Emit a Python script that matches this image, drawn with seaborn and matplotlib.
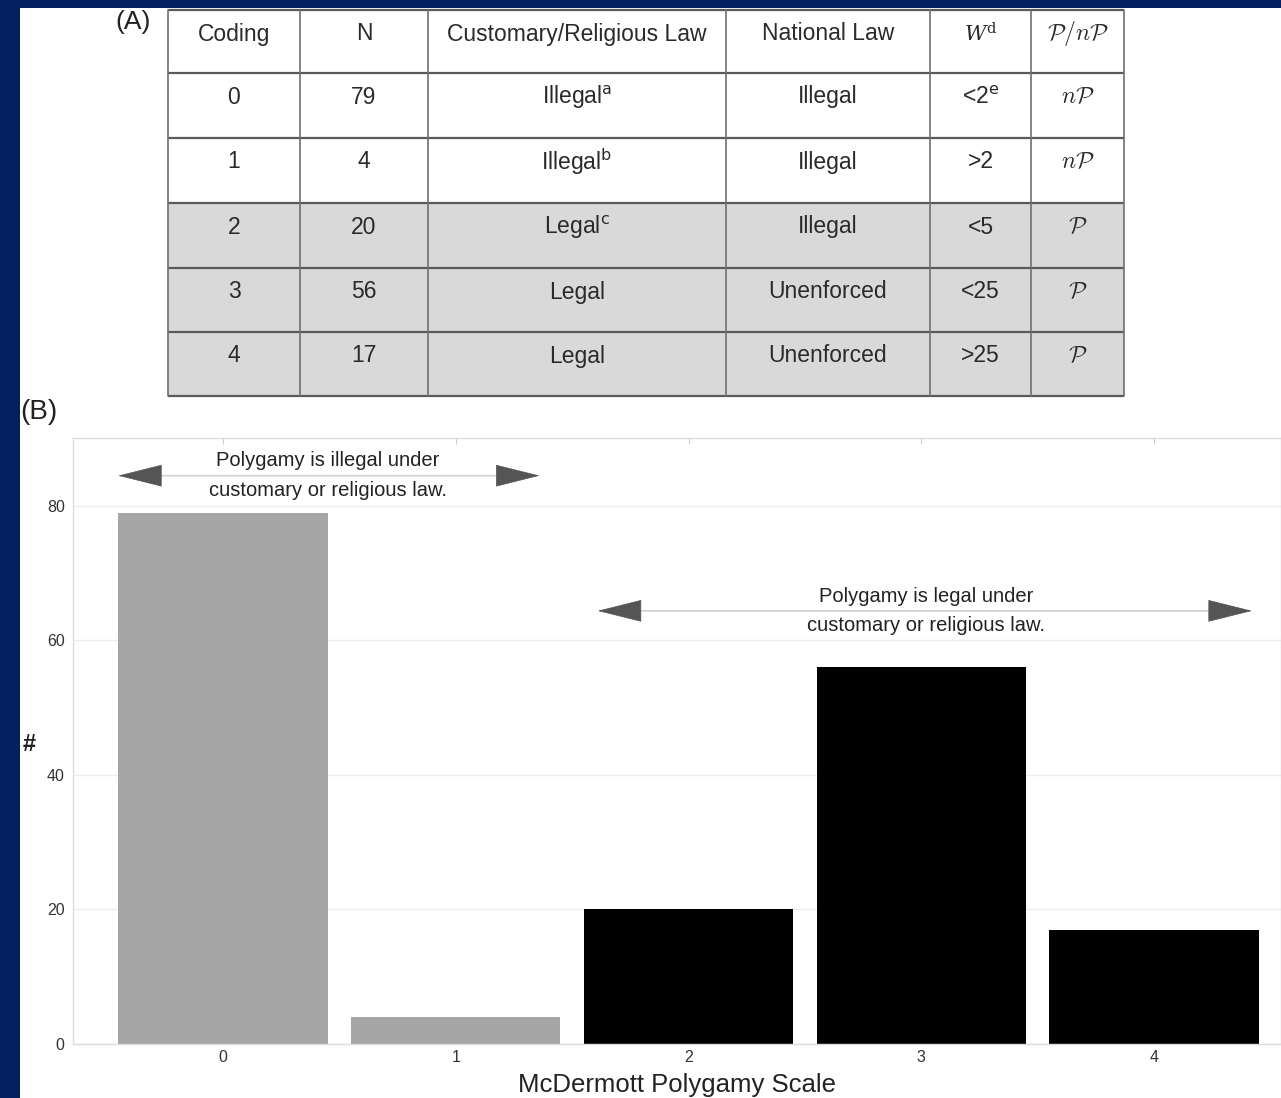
import matplotlib
matplotlib.use("Agg")
import matplotlib.pyplot as plt
from matplotlib.patches import Rectangle
from matplotlib.ticker import MultipleLocator
import seaborn as sns
import pandas as pd

# ---- data ----
coding = [0, 1, 2, 3, 4]
counts = [79, 4, 20, 56, 17]
status = ["illegal", "illegal", "legal", "legal", "legal"]
customary_law = ["Illegal$^{\\rm a}$", "Illegal$^{\\rm b}$", "Legal$^{\\rm c}$", "Legal", "Legal"]
national_law = ["Illegal", "Illegal", "Illegal", "Unenforced", "Unenforced"]
wives = ["<2$^{\\rm e}$", ">2", "<5", "<25", ">25"]
polygynous = [r"$n\mathcal{P}$", r"$n\mathcal{P}$", r"$\mathcal{P}$", r"$\mathcal{P}$", r"$\mathcal{P}$"]
headers = ["Coding", "N", "Customary/Religious Law", "National Law", r"$W^{\rm d}$", r"$\mathcal{P}/n\mathcal{P}$"]
x_label = "McDermott Polygamy Scale"
illegal_note = "Polygamy is illegal under\ncustomary or religious law."
legal_note = "Polygamy is legal under\ncustomary or religious law."

NAVY = "#03205f"
GREY_BAR = "#a6a6a6"
SHADE = "#d9d9d9"

sns.set_style("white")
plt.rcParams["font.family"] = ["Liberation Sans", "DejaVu Sans"]

W, H = 1281, 1098
fig = plt.figure(figsize=(W / 100, H / 100), dpi=100, facecolor=NAVY)
fig.patches.append(Rectangle((20 / W, 0), 1, (H - 8) / H, transform=fig.transFigure,
                             facecolor="white", edgecolor="none", zorder=-5))

# ---- panel A: table (pixel layout) ----
tab = fig.add_axes([0, 0, 1, 1])
tab.set_xlim(0, W)
tab.set_ylim(H, 0)
tab.axis("off")
tab.patch.set_alpha(0)

col_edges = [168, 300, 428, 726, 930, 1031, 1124]
row_edges = [10, 73, 138, 203, 268, 332, 396]

rows = [headers] + [
    [str(c), str(n), cl, nl, w, p]
    for c, n, cl, nl, w, p in zip(coding, counts, customary_law, national_law, wives, polygynous)
]

for r, row in enumerate(rows):
    top, bot = row_edges[r], row_edges[r + 1]
    shaded = r > 0 and status[r - 1] == "legal"
    if shaded:
        tab.add_patch(Rectangle((col_edges[0], top), col_edges[-1] - col_edges[0], bot - top,
                                facecolor=SHADE, edgecolor="none", zorder=1))
    for c, txt in enumerate(row):
        xc = (col_edges[c] + col_edges[c + 1]) / 2
        kw = {}
        if c == 5:
            kw["math_fontfamily"] = "cm"
            size = 17
        elif c == 4 and r == 0:
            kw["math_fontfamily"] = "dejavuserif"
            size = 15
        else:
            size = 16.5
        tab.text(xc, top + 24, txt, ha="center", va="center", fontsize=size,
                 color="#2a2a2a", zorder=3, **kw)

for y in row_edges:
    tab.plot([col_edges[0], col_edges[-1]], [y, y], color="#5a5a5a", lw=1.6, zorder=2,
             solid_capstyle="butt")
for x in col_edges:
    tab.plot([x, x], [row_edges[0], row_edges[-1]], color="#707070", lw=1.2, zorder=2)

tab.text(115, 22, "(A)", ha="left", va="center", fontsize=19, color="#222222")
tab.text(20, 412, "(B)", ha="left", va="center", fontsize=20, color="#222222")

# ---- panel B: bar chart ----
ax = fig.add_axes([73 / W, 1 - 1044 / H, (W - 73) / W, (1044 - 438) / H])
df = pd.DataFrame({"code": coding, "n": counts, "status": status})
sns.barplot(data=df, x="code", y="n", hue="status",
            palette={"illegal": GREY_BAR, "legal": "#000000"},
            dodge=False, width=0.9, saturation=1, legend=False, ax=ax, linewidth=0)

ax.set_xlim(-0.644, 4.545)
ax.set_ylim(0, 90.1)
ax.set_yticks([0, 20, 40, 60, 80])
ax.yaxis.set_minor_locator(MultipleLocator(5))
ax.yaxis.grid(True, which="major", color="#eeeeee", lw=1)
ax.set_axisbelow(True)

for s in ax.spines.values():
    s.set_color("#dcdcdc")
    s.set_linewidth(1.0)

ax.tick_params(axis="y", which="major", direction="out", length=3, color="#cccccc",
               labelsize=11.5, labelcolor="#333333", pad=3)
ax.tick_params(axis="y", which="minor", direction="out", length=3, color="#cccccc")
ax.tick_params(axis="x", which="major", direction="in", length=4, color="#cccccc",
               top=True, bottom=True, labelsize=11.5, labelcolor="#333333", pad=4)

ax.set_xlabel(x_label, fontsize=18.5, color="#222222", labelpad=6)
ax.set_ylabel("#", rotation=0, fontsize=17, fontweight="bold", color="#222222",
              va="center")
ax.yaxis.set_label_coords(-0.036, 0.494)

# range arrows with notes
def range_arrow(x0, x1, y, text_x, note):
    ax.annotate("", xy=(x0, y), xytext=(x1, y),
                arrowprops=dict(arrowstyle="-", color="#d0d0d0", lw=1.2), zorder=4)
    for tip, back in ((x0, x0 + 0.02), (x1, x1 - 0.02)):
        ax.annotate("", xy=(tip, y), xytext=(back, y),
                    arrowprops=dict(arrowstyle="-|>,head_length=2.0,head_width=0.5",
                                    color="#555555", lw=0.5, mutation_scale=15,
                                    shrinkA=0, shrinkB=0), zorder=5)
    ax.text(text_x, y, note, ha="center", va="center", fontsize=14.5,
            color="#222222", linespacing=1.7, zorder=6)

range_arrow(-0.45, 1.36, 84.5, 0.45, illegal_note)
range_arrow(1.61, 4.42, 64.4, 3.02, legal_note)

fig.savefig("out.png", dpi=100, facecolor=NAVY)
